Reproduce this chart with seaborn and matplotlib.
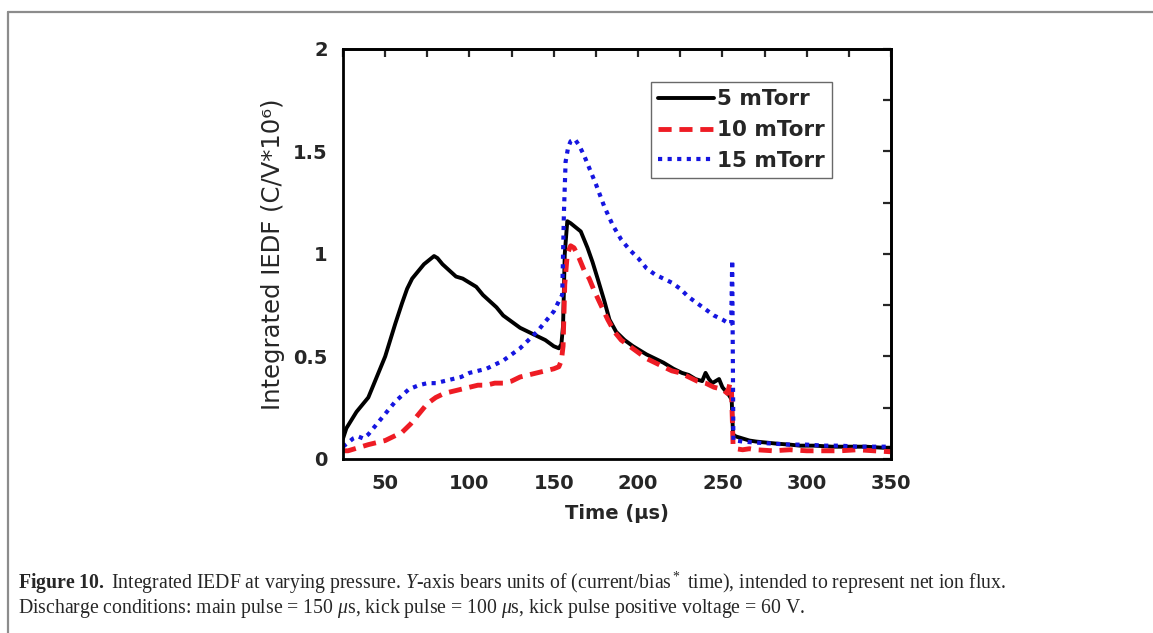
import numpy as np
import pandas as pd
import matplotlib
matplotlib.use("Agg")
import matplotlib.pyplot as plt
import seaborn as sns
from matplotlib.lines import Line2D
from matplotlib.ticker import MultipleLocator, FuncFormatter

# dados (tempo em us, IEDF integrada em C/V*10^6)
t_5 = [25, 27, 30, 33, 36, 40, 43, 46, 50, 53, 56, 60, 63, 66, 70, 73, 76, 79, 81, 84,
       88, 92, 96, 100, 104, 108, 112, 116, 120, 125, 130, 135, 140, 145, 150, 153,
       154.5, 155.5, 156.5, 158, 160, 163, 166, 170, 173, 176, 180, 183, 187, 192, 197,
       205, 210, 215, 221, 226, 230, 234, 238, 240, 242, 244, 246, 248, 250, 252, 254,
       255.5, 256.3, 258, 262, 266, 270, 276, 282, 290, 296, 305, 315, 325, 335, 345, 350]
v_5 = [0.10, 0.15, 0.19, 0.23, 0.26, 0.30, 0.36, 0.42, 0.50, 0.58, 0.66, 0.76, 0.83, 0.88,
       0.92, 0.95, 0.97, 0.99, 0.98, 0.95, 0.92, 0.89, 0.88, 0.86, 0.84, 0.80, 0.77, 0.74,
       0.70, 0.67, 0.64, 0.62, 0.60, 0.58, 0.55, 0.54, 0.56, 0.65, 1.00, 1.16, 1.15, 1.13,
       1.11, 1.03, 0.96, 0.88, 0.77, 0.68, 0.62, 0.58, 0.55, 0.51, 0.49, 0.47, 0.44, 0.42,
       0.41, 0.39, 0.38, 0.42, 0.39, 0.37, 0.38, 0.39, 0.35, 0.33, 0.31, 0.29, 0.12, 0.11,
       0.10, 0.09, 0.085, 0.08, 0.075, 0.07, 0.065, 0.065, 0.06, 0.06, 0.06, 0.055, 0.055]

t_10 = [25, 28, 32, 36, 40, 45, 50, 55, 60, 65, 70, 75, 80, 85, 90, 95, 100, 105, 110, 115,
        120, 125, 130, 135, 140, 145, 150, 153, 154.5, 155.5, 156.5, 158, 160, 162, 165,
        168, 171, 174, 178, 182, 186, 190, 195, 200, 205, 210, 215, 220, 225, 230, 235,
        240, 245, 250, 253, 254.5, 255.3, 256.3, 258, 262, 266, 270, 280, 290, 300, 310,
        320, 330, 340, 350]
v_10 = [0.04, 0.04, 0.05, 0.06, 0.07, 0.08, 0.09, 0.11, 0.13, 0.17, 0.22, 0.27, 0.30, 0.32,
        0.33, 0.34, 0.35, 0.36, 0.36, 0.37, 0.37, 0.38, 0.40, 0.41, 0.42, 0.43, 0.44, 0.45,
        0.48, 0.55, 0.85, 1.00, 1.04, 1.03, 0.98, 0.92, 0.88, 0.82, 0.75, 0.68, 0.62, 0.58,
        0.55, 0.52, 0.49, 0.47, 0.45, 0.43, 0.42, 0.40, 0.38, 0.37, 0.35, 0.34, 0.32, 0.37,
        0.36, 0.07, 0.05, 0.045, 0.05, 0.045, 0.04, 0.045, 0.04, 0.04, 0.04, 0.045, 0.04, 0.035]

t_15 = [25, 28, 31, 34, 37, 40, 44, 48, 52, 56, 60, 64, 67, 70, 75, 80, 85, 90, 95, 100,
        105, 110, 115, 120, 125, 130, 135, 140, 145, 150, 153, 155, 156, 157, 158.5, 160,
        162.5, 165, 168, 171, 175, 180, 185, 190, 195, 200, 205, 210, 215, 220, 225, 230,
        235, 240, 245, 250, 254, 255.2, 255.8, 256.5, 258, 262, 270, 280, 290, 300, 310,
        320, 330, 340, 350]
v_15 = [0.06, 0.08, 0.10, 0.11, 0.10, 0.12, 0.16, 0.20, 0.24, 0.28, 0.31, 0.34, 0.35, 0.36,
        0.37, 0.37, 0.38, 0.39, 0.40, 0.42, 0.43, 0.44, 0.46, 0.48, 0.51, 0.54, 0.58, 0.62,
        0.67, 0.72, 0.77, 0.80, 1.20, 1.45, 1.52, 1.55, 1.56, 1.53, 1.48, 1.42, 1.34, 1.23,
        1.14, 1.07, 1.02, 0.98, 0.93, 0.90, 0.88, 0.86, 0.83, 0.79, 0.76, 0.73, 0.70, 0.68,
        0.66, 0.66, 0.97, 0.09, 0.09, 0.085, 0.08, 0.075, 0.07, 0.07, 0.065, 0.065, 0.06,
        0.06, 0.06]

series_labels = ["5 mTorr", "10 mTorr", "15 mTorr"]

sns.set_style("white")
plt.rcParams["font.family"] = ["DejaVu Sans"]
plt.rcParams["mathtext.fontset"] = "custom"
plt.rcParams["mathtext.rm"] = "Liberation Serif"
plt.rcParams["mathtext.it"] = "Liberation Serif:italic"
plt.rcParams["mathtext.bf"] = "Liberation Serif:bold"

fig = plt.figure(figsize=(11.53, 6.33), dpi=100)
ax = fig.add_axes([0.2975, 0.2749, 0.4753, 0.6477])

sns.lineplot(x=t_5, y=v_5, ax=ax, color="black", linewidth=2.8,
             label=series_labels[0], sort=False, estimator=None)
sns.lineplot(x=t_10, y=v_10, ax=ax, color="#ee1c24", linewidth=3.5,
             linestyle=(0, (2.7, 1.6)), label=series_labels[1], sort=False, estimator=None)
sns.lineplot(x=t_15, y=v_15, ax=ax, color="#1515e0", linewidth=3.0,
             linestyle=(0, (1, 1.3)), label=series_labels[2], sort=False, estimator=None)

ax.set_xlim(25, 350)
ax.set_ylim(0, 2)
ax.xaxis.set_major_locator(MultipleLocator(50))
ax.xaxis.set_minor_locator(MultipleLocator(25))
ax.yaxis.set_major_locator(MultipleLocator(0.5))
ax.yaxis.set_minor_locator(MultipleLocator(0.25))
ax.xaxis.set_major_formatter(FuncFormatter(lambda v, p: "" if v < 40 else f"{v:g}"))
ax.yaxis.set_major_formatter(FuncFormatter(lambda v, p: f"{v:g}"))

for s in ax.spines.values():
    s.set_linewidth(2.0)
    s.set_color("black")

ax.tick_params(which="major", direction="out", length=6, width=1.6,
               labelsize=14, pad=5, color="black")
ax.tick_params(which="minor", direction="out", length=3.5, width=1.6, color="black")
for lab in ax.get_xticklabels() + ax.get_yticklabels():
    lab.set_fontweight("bold")

# ticks espelhados (para dentro) no topo e a direita
top = ax.secondary_xaxis("top")
top.xaxis.set_major_locator(MultipleLocator(25))
top.tick_params(direction="in", length=6, width=1.6, labeltop=False)
top.spines["top"].set_linewidth(2.0)
right = ax.secondary_yaxis("right")
right.yaxis.set_major_locator(MultipleLocator(0.25))
right.tick_params(direction="in", length=6, width=1.6, labelright=False)
right.spines["right"].set_linewidth(2.0)

ax.set_xlabel("Time (μs)", fontsize=14, fontweight="bold", labelpad=8)
ax.set_ylabel("Integrated IEDF (C/V*10⁶)", fontsize=17.5, labelpad=6)

leg = ax.legend(loc="upper right", bbox_to_anchor=(0.892, 0.92), borderaxespad=0,
                frameon=True, fancybox=False, handlelength=2.6, handletextpad=0.1,
                labelspacing=0.5, borderpad=0.35,
                prop={"weight": "bold", "size": 15.5})
leg.get_frame().set_edgecolor("#444444")
leg.get_frame().set_linewidth(1.0)

# moldura cinza da figura
fig.add_artist(Line2D([8 / 1153, 1], [1 - 12 / 633, 1 - 12 / 633],
                      transform=fig.transFigure, color="#8c8c8c", lw=1.6))
fig.add_artist(Line2D([8 / 1153, 8 / 1153], [0, 1 - 12 / 633],
                      transform=fig.transFigure, color="#8c8c8c", lw=1.6))

cap1 = (r"$\mathbf{Figure\ 10.}$ Integrated IEDF at varying pressure. $\mathit{Y}$-axis bears "
        r"units of (current/bias$^*$ time), intended to represent net ion flux.")
cap2 = (r"Discharge conditions: main pulse = 150 $\mathit{\mu}$s, kick pulse = 100 "
        r"$\mathit{\mu}$s, kick pulse positive voltage = 60 V.")
fig.text(18 / 1153, 1 - 583 / 633, cap1, family="Liberation Serif", fontsize=14.2, va="center")
fig.text(18 / 1153, 1 - 608 / 633, cap2, family="Liberation Serif", fontsize=14.2, va="center")

fig.savefig("out.png", dpi=100)
